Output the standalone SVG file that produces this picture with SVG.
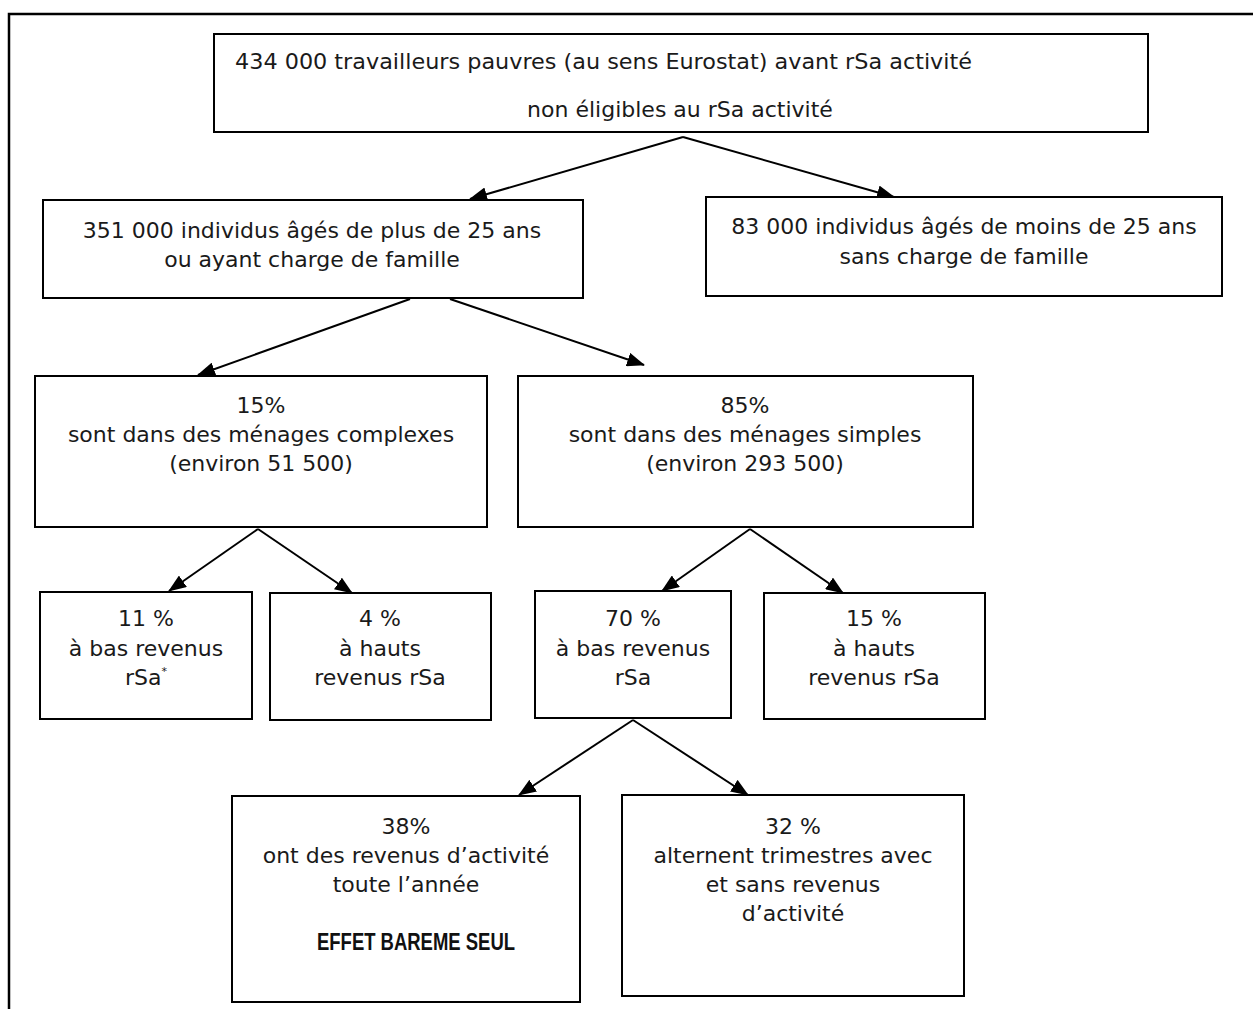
<svg xmlns="http://www.w3.org/2000/svg" width="1253" height="1009" viewBox="0 0 1253 1009">
<defs>
<marker id="ah" markerUnits="userSpaceOnUse" markerWidth="18" markerHeight="14" viewBox="0 0 18 14" refX="17" refY="7" orient="auto">
<path d="M0,0 L18,7 L0,14 Z" fill="#000"/>
</marker>
</defs>
<style>
.box{fill:#fff;stroke:#000;stroke-width:2}
.t{font-family:"DejaVu Sans","Liberation Sans",sans-serif;font-size:22px;fill:#1a1a1a;text-anchor:middle}
.b{font-family:"Liberation Sans","Open Sans",sans-serif;font-size:24px;font-weight:bold;fill:#111;text-anchor:middle}
.c{stroke:#000;stroke-width:2;fill:none;marker-end:url(#ah)}
.frame{stroke:#000;stroke-width:2.5;fill:none}
</style>
<rect width="1253" height="1009" fill="#fff"/>
<path class="frame" d="M9,1009 L9,14 L1253,14"/>
<g id="connectors">
<line class="c" x1="683" y1="137" x2="470" y2="199"/>
<line class="c" x1="683" y1="137" x2="894" y2="197"/>
<line class="c" x1="410" y1="299" x2="198" y2="375"/>
<line class="c" x1="450" y1="299" x2="644" y2="365"/>
<line class="c" x1="258" y1="529" x2="169" y2="591"/>
<line class="c" x1="258" y1="529" x2="352" y2="593"/>
<line class="c" x1="750" y1="529" x2="662" y2="591"/>
<line class="c" x1="750" y1="529" x2="843" y2="593"/>
<line class="c" x1="633" y1="720" x2="519" y2="795"/>
<line class="c" x1="633" y1="720" x2="748" y2="795"/>
</g>
<g id="n-top">
<rect class="box" x="214" y="34" width="934" height="98"/>
<text class="t" x="235" y="69" style="text-anchor:start" textLength="737" lengthAdjust="spacingAndGlyphs">434 000 travailleurs pauvres (au sens Eurostat) avant rSa activité</text>
<text class="t" x="680" y="117">non éligibles au rSa activité</text>
</g>
<g id="n-351">
<rect class="box" x="43" y="200" width="540" height="98"/>
<text class="t" x="312" y="238">351 000 individus âgés de plus de 25 ans</text>
<text class="t" x="312" y="267">ou ayant charge de famille</text>
</g>
<g id="n-83">
<rect class="box" x="706" y="197" width="516" height="99"/>
<text class="t" x="964" y="234">83 000 individus âgés de moins de 25 ans</text>
<text class="t" x="964" y="264">sans charge de famille</text>
</g>
<g id="n-15">
<rect class="box" x="35" y="376" width="452" height="151"/>
<text class="t" x="261" y="413">15%</text>
<text class="t" x="261" y="442">sont dans des ménages complexes</text>
<text class="t" x="261" y="471">(environ 51 500)</text>
</g>
<g id="n-85">
<rect class="box" x="518" y="376" width="455" height="151"/>
<text class="t" x="745" y="413">85%</text>
<text class="t" x="745" y="442">sont dans des ménages simples</text>
<text class="t" x="745" y="471">(environ 293 500)</text>
</g>
<g id="n-11">
<rect class="box" x="40" y="592" width="212" height="127"/>
<text class="t" x="146" y="626">11 %</text>
<text class="t" x="146" y="656">à bas revenus</text>
<text class="t" x="146" y="685">rSa<tspan font-size="11" dy="-10">*</tspan></text>
</g>
<g id="n-4">
<rect class="box" x="270" y="593" width="221" height="127"/>
<text class="t" x="380" y="626">4 %</text>
<text class="t" x="380" y="656">à hauts</text>
<text class="t" x="380" y="685">revenus rSa</text>
</g>
<g id="n-70">
<rect class="box" x="535" y="591" width="196" height="127"/>
<text class="t" x="633" y="626">70 %</text>
<text class="t" x="633" y="656">à bas revenus</text>
<text class="t" x="633" y="685">rSa</text>
</g>
<g id="n-15h">
<rect class="box" x="764" y="593" width="221" height="126"/>
<text class="t" x="874" y="626">15 %</text>
<text class="t" x="874" y="656">à hauts</text>
<text class="t" x="874" y="685">revenus rSa</text>
</g>
<g id="n-38">
<rect class="box" x="232" y="796" width="348" height="206"/>
<text class="t" x="406" y="834">38%</text>
<text class="t" x="406" y="863">ont des revenus d’activité</text>
<text class="t" x="406" y="892">toute l’année</text>
<text class="b" x="416" y="950" textLength="198" lengthAdjust="spacingAndGlyphs">EFFET BAREME SEUL</text>
</g>
<g id="n-32">
<rect class="box" x="622" y="795" width="342" height="201"/>
<text class="t" x="793" y="834">32 %</text>
<text class="t" x="793" y="863">alternent trimestres avec</text>
<text class="t" x="793" y="892">et sans revenus</text>
<text class="t" x="793" y="921">d’activité</text>
</g>
</svg>
